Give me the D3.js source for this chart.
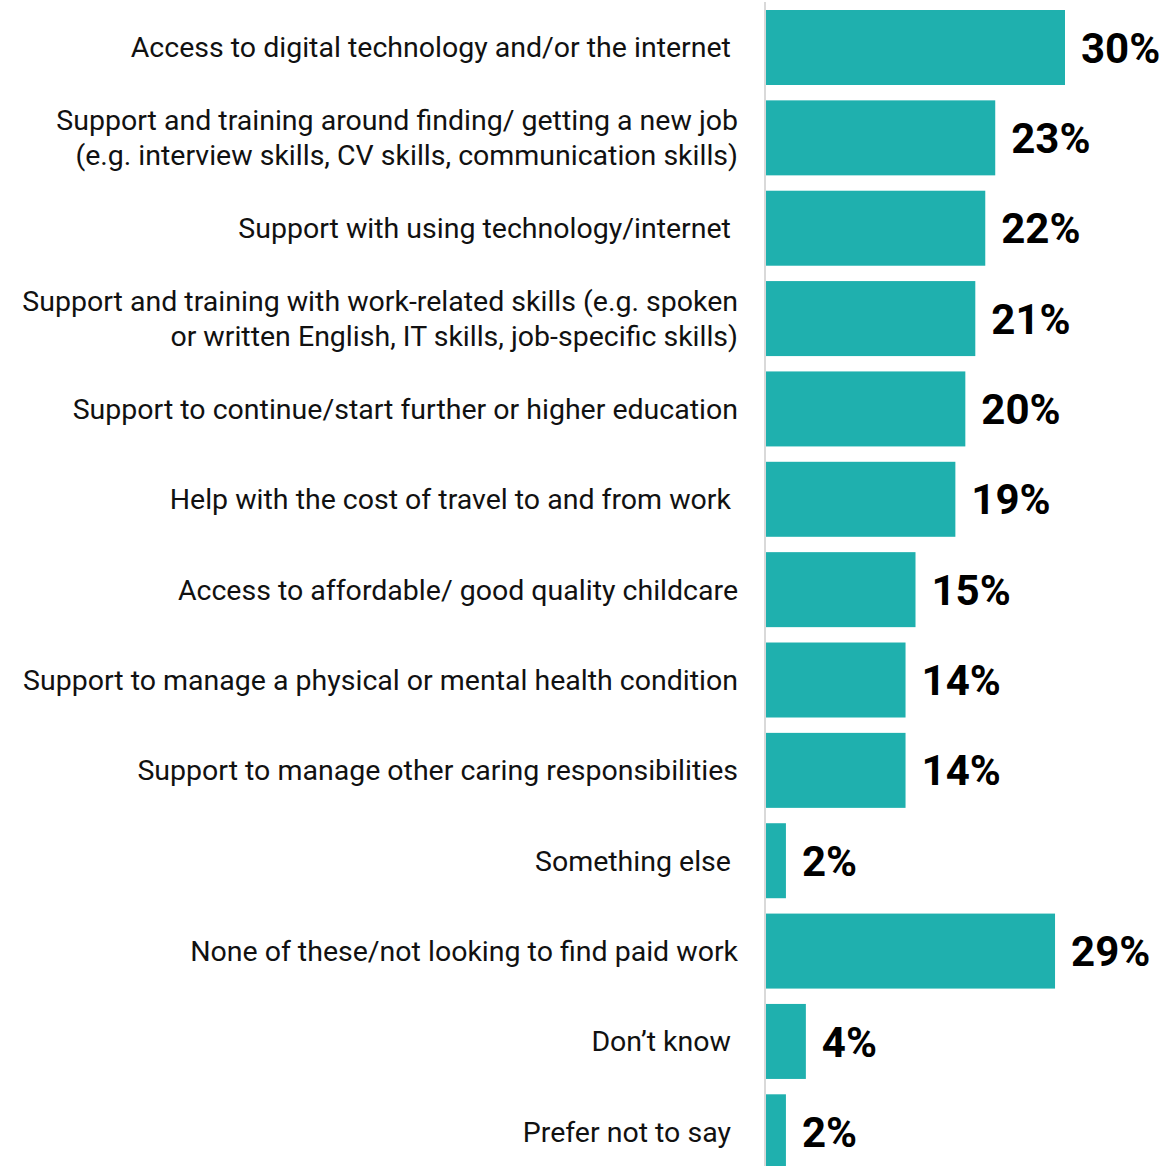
<!DOCTYPE html>
<html>
<head>
<meta charset="utf-8">
<script src="https://cdn.jsdelivr.net/npm/d3@7"></script>
<style>
  html, body { margin: 0; padding: 0; background: #fff; }
  svg { display: block; }
  text { font-family: Roboto, "Noto Sans", sans-serif; }
</style>
</head>
<body>
<svg id="chart" width="1167" height="1166"></svg>
<script>
const categories = [
  ["Access to digital technology and/or the internet "],
  ["Support and training around finding/ getting a new job", "(e.g. interview skills, CV skills, communication skills)"],
  ["Support with using technology/internet "],
  ["Support and training with work-related skills (e.g. spoken", "or written English, IT skills, job-specific skills)"],
  ["Support to continue/start further or higher education"],
  ["Help with the cost of travel to and from work "],
  ["Access to affordable/ good quality childcare"],
  ["Support to manage a physical or mental health condition"],
  ["Support to manage other caring responsibilities"],
  ["Something else "],
  ["None of these/not looking to find paid work"],
  ["Don’t know "],
  ["Prefer not to say "]
];
const values = [30, 23, 22, 21, 20, 19, 15, 14, 14, 2, 29, 4, 2];
const valueLabels = ["30%", "23%", "22%", "21%", "20%", "19%", "15%", "14%", "14%", "2%", "29%", "4%", "2%"];

const svg = d3.select("#chart");
const W = 1167, H = 1166;
const idx = d3.range(values.length);

const y = d3.scaleBand().domain(idx).range([10, 1169.3]).paddingInner(0.17).paddingOuter(0);
const x = d3.scaleLinear().domain([0, 30]).range([766, 1065]);

// bars
svg.append("g").selectAll("rect").data(idx).join("rect")
  .attr("x", x(0))
  .attr("y", i => y(i))
  .attr("width", i => x(values[i]) - x(0))
  .attr("height", y.bandwidth())
  .attr("fill", "#1fb0ae");

// axis line
svg.append("line")
  .attr("x1", 765).attr("x2", 765)
  .attr("y1", 2).attr("y2", H)
  .attr("stroke", "#d9d9d9").attr("stroke-width", 2);

// value labels
svg.append("g").selectAll("text").data(idx).join("text")
  .attr("x", i => x(values[i]) + 16)
  .attr("y", i => y(i) + y.bandwidth() / 2)
  .attr("dy", "0.36em")
  .attr("font-size", 42)
  .attr("font-weight", 700)
  .attr("fill", "#000")
  .text(i => valueLabels[i]);

// category labels
const lineH = 35;
const lab = svg.append("g").selectAll("text").data(idx).join("text")
  .attr("text-anchor", "end")
  .attr("font-size", 28.5)
  .attr("fill", "#111")
  .style("white-space", "pre")
  .attr("y", i => y(i) + y.bandwidth() / 2);
lab.each(function(i) {
  const lines = categories[i];
  const t = d3.select(this);
  const cy = y(i) + y.bandwidth() / 2;
  lines.forEach((l, k) => {
    t.append("tspan")
      .attr("x", 738)
      .attr("y", cy + (k - (lines.length - 1) / 2) * lineH)
      .attr("dy", "0.35em")
      .text(l);
  });
});
</script>
</body>
</html>
